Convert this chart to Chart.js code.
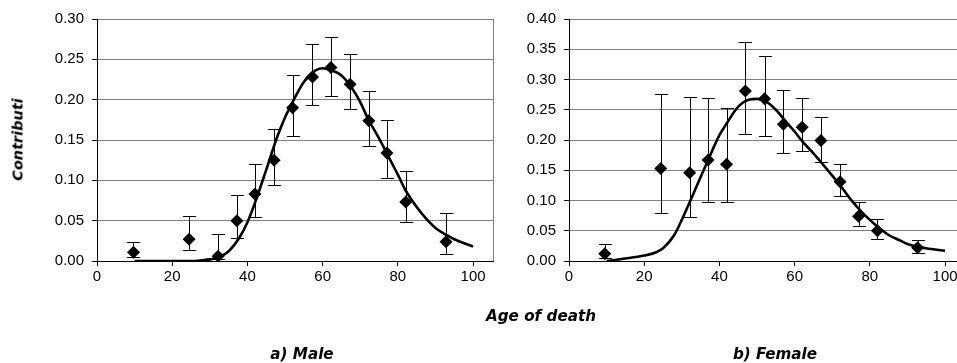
<!DOCTYPE html>
<html>
<head>
<meta charset="utf-8">
<script src="https://cdn.jsdelivr.net/npm/chart.js@4.4.1/dist/chart.umd.min.js"></script>
<style>
  html, body { margin: 0; padding: 0; background: #fff; overflow: hidden; width: 957px; height: 363px; }
  canvas { position: absolute; top: 0; }
  #male { left: 0; }
  #female { left: 472px; }
  .lbl {
    position: absolute;
    font-family: 'DejaVu Sans', sans-serif;
    font-weight: bold;
    font-style: italic;
    font-size: 15.2px;
    line-height: 15px;
    white-space: nowrap;
    color: #000;
    transform: translateX(-50%);
  }
  #ytitle { left: 18px; top: 132px; font-size: 14.5px; transform: translateX(-50%) rotate(-90deg); }
</style>
</head>
<body>
<canvas id="male" width="500" height="363"></canvas>
<canvas id="female" width="500" height="363"></canvas>
<div class="lbl" id="ytitle">Contributi</div>
<div class="lbl" style="left:541px; top:309px;">Age of death</div>
<div class="lbl" style="left:302px; top:347px;">a) Male</div>
<div class="lbl" style="left:775px; top:347px;">b) Female</div>
<script>
// ---- data ----
const xTicks = [0, 20, 40, 60, 80, 100];
const maleYTicks = [0, 0.05, 0.10, 0.15, 0.20, 0.25, 0.30];
const femaleYTicks = [0, 0.05, 0.10, 0.15, 0.20, 0.25, 0.30, 0.35, 0.40];

// male observed points with error bars
const maleAges = [9.7, 24.5, 32.2, 37.2, 42.0, 47.1, 52.0, 57.3, 62.2, 67.3, 72.3, 77.1, 82.1, 92.8];
const maleVals = [0.011, 0.027, 0.006, 0.050, 0.083, 0.125, 0.190, 0.228, 0.240, 0.219, 0.174, 0.134, 0.073, 0.024];
const maleHi = [0.024, 0.056, 0.034, 0.082, 0.120, 0.164, 0.231, 0.269, 0.278, 0.257, 0.211, 0.175, 0.112, 0.059];
const maleLo = [0.005, 0.014, 0.002, 0.029, 0.055, 0.094, 0.155, 0.193, 0.205, 0.188, 0.143, 0.103, 0.048, 0.009];

// male fitted curve
const maleCurveAge = [10, 20, 25, 28, 30, 32, 35, 38, 40, 42, 45, 48, 50, 52, 55, 58, 60, 62, 65, 68, 70, 72, 75, 78, 80, 82, 85, 88, 90, 93, 95, 100];
const maleCurveVal = [0, 0, 0, 0.001, 0.002, 0.004, 0.012, 0.030, 0.048, 0.072, 0.113, 0.155, 0.178, 0.197, 0.222, 0.236, 0.239, 0.237, 0.230, 0.213, 0.197, 0.177, 0.152, 0.125, 0.107, 0.088, 0.067, 0.050, 0.041, 0.032, 0.027, 0.018];

// female observed points with error bars
const femaleAges = [9.5, 24.4, 32.1, 37.0, 41.9, 46.9, 52.0, 57.0, 62.0, 67.0, 72.1, 77.0, 82.0, 92.7];
const femaleVals = [0.012, 0.153, 0.146, 0.167, 0.160, 0.281, 0.268, 0.226, 0.221, 0.199, 0.131, 0.074, 0.050, 0.022];
const femaleHi = [0.028, 0.276, 0.271, 0.269, 0.253, 0.362, 0.339, 0.283, 0.270, 0.238, 0.160, 0.097, 0.069, 0.034];
const femaleLo = [0.005, 0.080, 0.073, 0.098, 0.098, 0.210, 0.207, 0.179, 0.181, 0.164, 0.107, 0.058, 0.037, 0.014];

// female fitted curve
const femaleCurveAge = [10, 15, 20, 23, 25, 28, 30, 32, 35, 37, 40, 42, 45, 48, 50, 52, 55, 58, 60, 62, 65, 68, 70, 72, 75, 78, 80, 82, 85, 88, 90, 95, 100];
const femaleCurveVal = [0, 0.004, 0.009, 0.014, 0.021, 0.043, 0.068, 0.096, 0.139, 0.167, 0.208, 0.228, 0.255, 0.267, 0.268, 0.265, 0.250, 0.228, 0.214, 0.198, 0.178, 0.156, 0.141, 0.126, 0.101, 0.080, 0.068, 0.057, 0.043, 0.034, 0.028, 0.021, 0.017];

const toPoints = (xs, ys) => xs.map((x, i) => ({x: x, y: ys[i]}));

// error bars + gray frame on the right side of the plot area
const errorBars = {
    id: 'errorBars',
    beforeDatasetsDraw(chart, args, opts) {
        const {ctx, chartArea, scales: {x, y}} = chart;
        ctx.save();
        ctx.strokeStyle = '#808080';
        ctx.lineWidth = 1;
        ctx.beginPath();
        ctx.moveTo(Math.round(chartArea.right) + 0.5, chartArea.top);
        ctx.lineTo(Math.round(chartArea.right) + 0.5, chartArea.bottom);
        ctx.stroke();

        ctx.strokeStyle = '#000';
        const cap = 6.5;
        opts.xs.forEach((v, i) => {
            const px = Math.round(x.getPixelForValue(v)) + 0.5;
            const top = Math.round(y.getPixelForValue(opts.hi[i])) + 0.5;
            const bot = Math.round(y.getPixelForValue(opts.lo[i])) + 0.5;
            ctx.beginPath();
            ctx.moveTo(px, top);
            ctx.lineTo(px, bot);
            ctx.moveTo(px - cap, top);
            ctx.lineTo(px + cap, top);
            ctx.moveTo(px - cap, bot);
            ctx.lineTo(px + cap, bot);
            ctx.stroke();
        });
        ctx.restore();
    }
};

function makeChart(id, curveX, curveY, ptsX, ptsY, hi, lo, yTicks, yMax) {
    const tickFont = {family: "'Liberation Sans', Arial, sans-serif", size: 15};
    return new Chart(document.getElementById(id), {
        type: 'scatter',
        data: {
            datasets: [{
                data: toPoints(ptsX, ptsY),
                pointStyle: 'rectRot',
                pointRadius: 6.5,
                backgroundColor: '#000',
                borderColor: '#000',
                borderWidth: 0,
                showLine: false,
                order: 0
            }, {
                data: toPoints(curveX, curveY),
                showLine: true,
                borderColor: '#000',
                borderWidth: 2.6,
                pointRadius: 0,
                cubicInterpolationMode: 'monotone',
                order: 1
            }]
        },
        options: {
            responsive: false,
            animation: false,
            devicePixelRatio: 1,
            layout: {padding: {top: 19, right: 7, bottom: 63, left: 0}},
            plugins: {
                legend: {display: false},
                tooltip: {enabled: false},
                errorBars: {xs: ptsX, hi: hi, lo: lo}
            },
            scales: {
                x: {
                    type: 'linear',
                    min: 0,
                    max: 105.3,
                    afterBuildTicks: (s) => { s.ticks = xTicks.map(v => ({value: v})); },
                    afterFit: (s) => { s.height = 39; },
                    grid: {drawOnChartArea: false, drawTicks: true, tickLength: 5, tickColor: '#000'},
                    border: {color: '#000', width: 1},
                    ticks: {color: '#000', font: tickFont, padding: 2, maxRotation: 0}
                },
                y: {
                    min: 0,
                    max: yMax,
                    afterBuildTicks: (s) => { s.ticks = yTicks.map(v => ({value: v})); },
                    afterFit: (s) => { s.width = 97; },
                    grid: {
                        color: (c) => (c.tick && c.tick.value === 0 ? '#000' : '#808080'),
                        tickColor: '#000',
                        tickLength: 5
                    },
                    border: {color: '#000', width: 1},
                    ticks: {color: '#000', font: tickFont, padding: 8, callback: (v) => v.toFixed(2)}
                }
            }
        },
        plugins: [errorBars]
    });
}

makeChart('male', maleCurveAge, maleCurveVal, maleAges, maleVals, maleHi, maleLo, maleYTicks, 0.30);
makeChart('female', femaleCurveAge, femaleCurveVal, femaleAges, femaleVals, femaleHi, femaleLo, femaleYTicks, 0.40);
</script>
</body>
</html>
